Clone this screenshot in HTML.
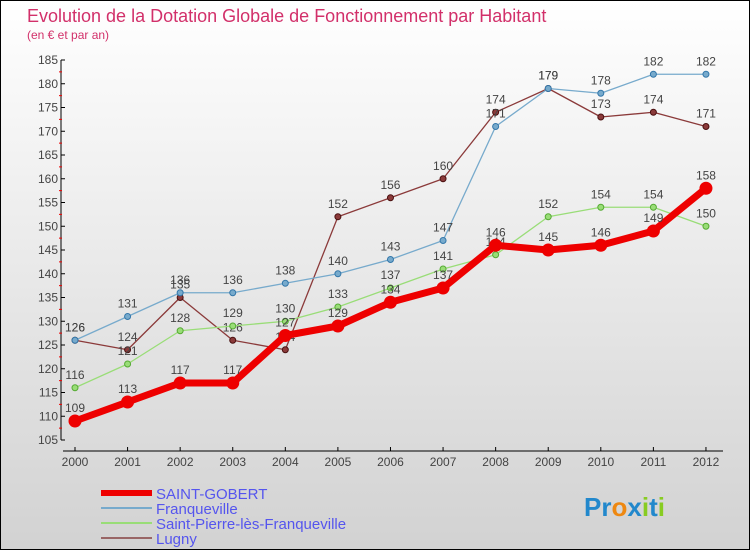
<!DOCTYPE html>
<html><head><meta charset="utf-8"><style>
body{margin:0;width:750px;height:550px;overflow:hidden;font-family:"Liberation Sans",sans-serif}
#wrap{position:relative;width:748px;height:548px;border:1px solid #000;background:linear-gradient(#ffffff,#d2d2d2)}
</style></head><body>
<div id="wrap">
<svg id="c" width="748" height="548"></svg>
</div>
<script>
const years=["2000","2001","2002","2003","2004","2005","2006","2007","2008","2009","2010","2011","2012"];
const saintGobert=[109,113,117,117,127,129,134,137,146,145,146,149,158];
const franqueville=[126,131,136,136,138,140,143,147,171,179,178,182,182];
const saintPierre=[116,121,128,129,130,133,137,141,144,152,154,154,150];
const lugny=[126,124,135,126,124,152,156,160,174,179,173,174,171];
const yTicks=[105,110,115,120,125,130,135,140,145,150,155,160,165,170,175,180,185];
const NS="http://www.w3.org/2000/svg";
const svg=document.getElementById('c');
function X(i){return 74+i*52.58;}
function Y(v){return 439-(v-105)*4.75;}
function mk(t,a,p){const e=document.createElementNS(NS,t);for(const k in a)e.setAttribute(k,a[k]);(p||svg).appendChild(e);return e;}
let t=mk('text',{x:26,y:21,fill:'#d2306a','font-size':18});t.textContent='Evolution de la Dotation Globale de Fonctionnement par Habitant';


t=mk('text',{x:26,y:38,fill:'#d2306a','font-size':12});t.textContent='(en € et par an)';


// y axis
let ya=mk('g',{});


mk('line',{x1:60,y1:Y(185),x2:60,y2:Y(105),stroke:'#000'},ya);
yTicks.forEach(v=>{mk('line',{x1:60,y1:Y(v),x2:64,y2:Y(v),stroke:'#000'},ya);
 if(v<185)mk('line',{x1:58,y1:Y(v+2.5),x2:61,y2:Y(v+2.5),stroke:'#e00'},ya);
 const l=mk('text',{x:57,y:Y(v)+4,'text-anchor':'end','font-size':12,fill:'#444'},ya);l.textContent=v;});
// x axis
let xa=mk('g',{});


mk('line',{x1:62,y1:450,x2:722,y2:450,stroke:'#000'},xa);
years.forEach((y,i)=>{mk('line',{x1:X(i),y1:446,x2:X(i),y2:450,stroke:'#000'},xa);
 const l=mk('text',{x:X(i),y:465,'text-anchor':'middle','font-size':12,fill:'#444'},xa);l.textContent=y;});
function series(arr,color,w,r,name,dark){
 const g=mk('g',{});
 
 
 mk('polyline',{points:arr.map((v,i)=>X(i)+','+Y(v)).join(' '),fill:'none',stroke:color,'stroke-width':w,'stroke-linejoin':'round'},g);
 arr.forEach((v,i)=>{const c=mk('circle',{cx:X(i),cy:Y(v),r:r,fill:color,stroke:dark,'stroke-width':1},g);
  
  
  const l=mk('text',{x:X(i),y:Y(v)-9,'text-anchor':'middle','font-size':12,fill:'#444'},g);l.textContent=v;});
}
series(lugny,'#8b3a3a',1.3,3,'series-lugny','#4a1010');
series(saintPierre,'#99dd77',1.3,3,'series-saint-pierre','#55aa33');
series(franqueville,'#77aacc',1.3,3,'series-franqueville','#3377aa');
series(saintGobert,'#ee0000',7,6,'series-saint-gobert','#ee0000');
// legend
const leg=[['SAINT-GOBERT','#ee0000',6],['Franqueville','#77aacc',2],['Saint-Pierre-lès-Franqueville','#99dd77',2],['Lugny','#996666',2]];
leg.forEach((d,i)=>{const g=mk('g',{});
 
 
 const y=492+i*15;
 mk('line',{x1:100,y1:y,x2:151,y2:y,stroke:d[1],'stroke-width':d[2]},g);
 const l=mk('text',{x:155,y:y+6,'font-size':15,fill:'#5555ee'},g);l.textContent=d[0];});
// logo
t=mk('text',{x:583,y:515,'font-size':26,'font-weight':'bold',fill:'#3399cc'});
t.innerHTML='<tspan fill="#2288cc">Pr</tspan><tspan fill="#ee8811">o</tspan><tspan fill="#2288cc">x</tspan><tspan fill="#88cc22">i</tspan><tspan fill="#2288cc">t</tspan><tspan fill="#88cc22">i</tspan>';


</script>
</body></html>
